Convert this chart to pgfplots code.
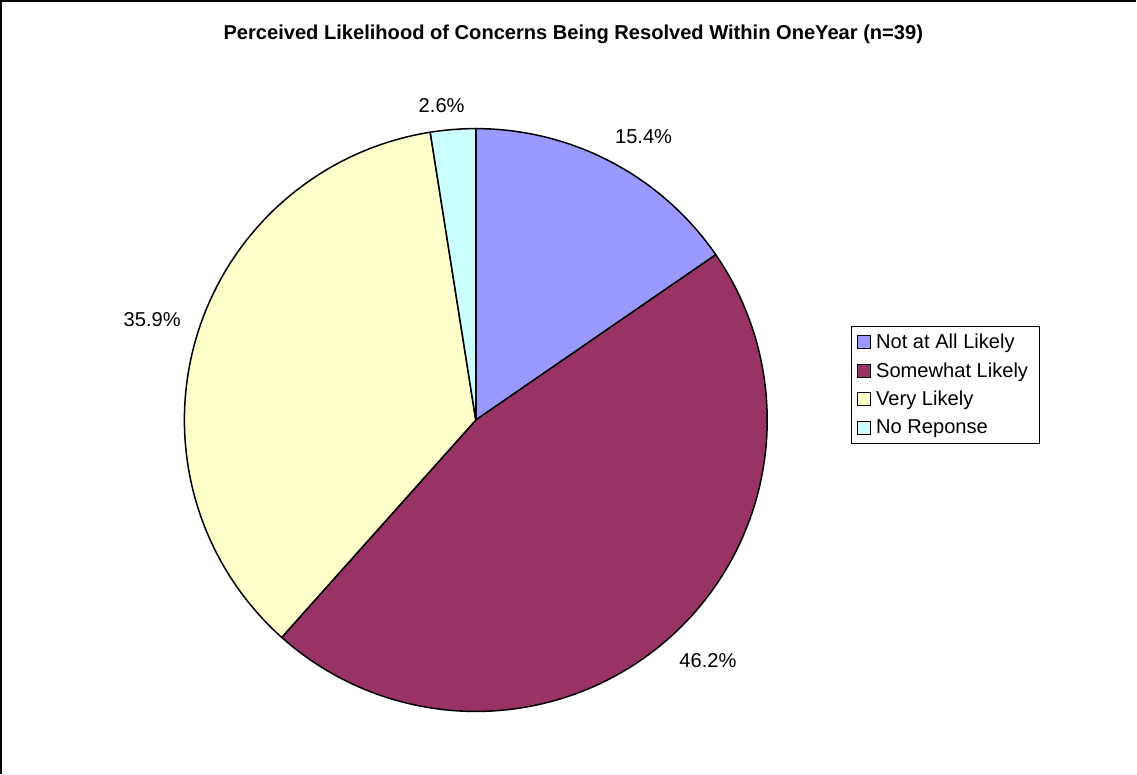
\documentclass[border=0pt]{standalone}
\usepackage{pgfplots}
\pgfplotsset{compat=1.18}
\usepackage{fontspec}
\setmainfont{Liberation Sans}
\definecolor{cA}{HTML}{9999FF}
\definecolor{cB}{HTML}{993366}
\definecolor{cC}{HTML}{FFFFCC}
\definecolor{cD}{HTML}{CCFFFF}
% slice shares in percent
\def\pA{15.4}\def\pB{46.2}\def\pC{35.9}\def\pD{2.6}
\def\cx{480}\def\cy{352}\def\rr{290}
\pgfmathsetmacro{\aO}{90}
\pgfmathsetmacro{\aA}{\aO-\pA*3.6}
\pgfmathsetmacro{\aB}{\aA-\pB*3.6}
\pgfmathsetmacro{\aC}{\aB-\pC*3.6}
\pgfmathsetmacro{\aD}{-270}
\begin{document}
\begin{tikzpicture}
\begin{axis}[
  scale only axis, width=1137pt, height=773pt,
  xmin=0, xmax=1137, ymin=0, ymax=773,
  hide axis, clip=false,
  legend style={at={(axis cs:853,446)}, anchor=north west, draw=black, line width=0.8pt,
    font=\fontsize{20}{23}\selectfont, row sep=8.5pt, inner xsep=6pt, inner ysep=6pt,
    nodes={inner xsep=5pt},
    /tikz/every even column/.append style={column sep=0pt}},
  legend cell align=left,
  legend image code/.code={\draw[#1, line width=1pt] (0pt,-6.5pt) rectangle (13pt,6.5pt);},
]
\addplot[fill=cA, draw=black, line width=1.5pt, domain=\aA:\aO, samples=80]
  ({\cx+\rr*cos(x)},{\cy+\rr*sin(x)}) -- (axis cs:\cx,\cy) -- cycle;
\addlegendentry{Not at All Likely}
\addplot[fill=cB, draw=black, line width=1.5pt, domain=\aB:\aA, samples=120]
  ({\cx+\rr*cos(x)},{\cy+\rr*sin(x)}) -- (axis cs:\cx,\cy) -- cycle;
\addlegendentry{Somewhat Likely}
\addplot[fill=cC, draw=black, line width=1.5pt, domain=\aC:\aB, samples=100]
  ({\cx+\rr*cos(x)},{\cy+\rr*sin(x)}) -- (axis cs:\cx,\cy) -- cycle;
\addlegendentry{Very Likely}
\addplot[fill=cD, draw=black, line width=1.5pt, domain=\aD:\aC, samples=20]
  ({\cx+\rr*cos(x)},{\cy+\rr*sin(x)}) -- (axis cs:\cx,\cy) -- cycle;
\addlegendentry{No Reponse}
\node[font=\bfseries\fontsize{20}{23}\selectfont] at (axis cs:577,736) {Perceived Likelihood of Concerns Being Resolved Within OneYear (n=39)};
\node[font=\fontsize{20}{23}\selectfont] at (axis cs:647,634) {15.4\%};
\node[font=\fontsize{20}{23}\selectfont] at (axis cs:711,113) {46.2\%};
\node[font=\fontsize{20}{23}\selectfont] at (axis cs:158,452) {35.9\%};
\node[font=\fontsize{20}{23}\selectfont] at (axis cs:446,665) {2.6\%};
\draw[line width=2pt] (axis cs:7.5,0) -- (axis cs:7.5,769) -- (axis cs:1137,769);
\end{axis}
\end{tikzpicture}
\end{document}
